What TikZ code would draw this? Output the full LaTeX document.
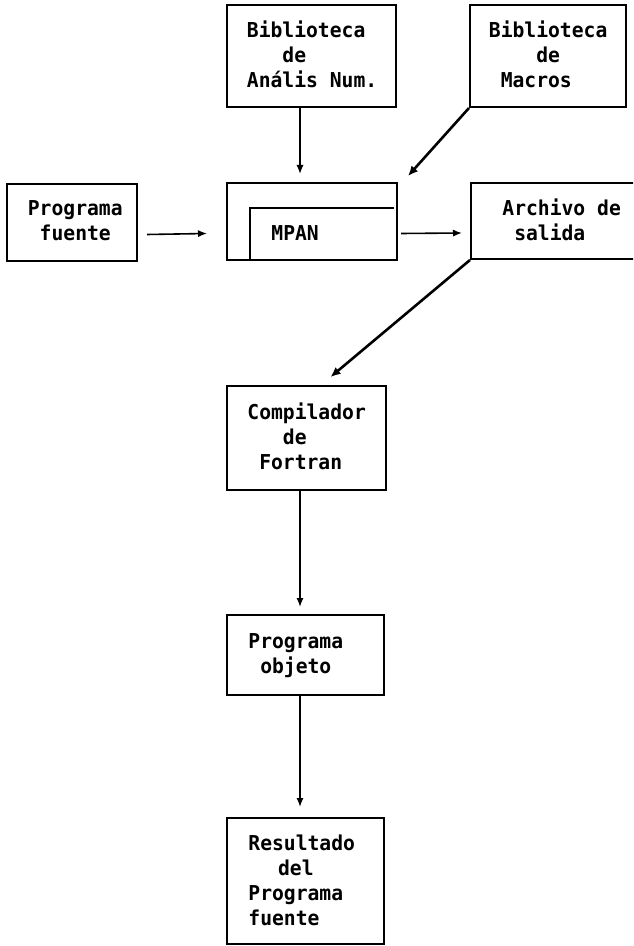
\documentclass[tikz,border=0pt]{standalone}
\usepackage{fontspec}
\setmonofont{DejaVu Sans Mono}[FakeStretch=0.96]
\usetikzlibrary{calc,arrows.meta}

\begin{document}
% one unit = one pixel of the sheet; y grows downwards
\begin{tikzpicture}[x=0.5pt,y=-0.5pt,
  box/.style={draw,line width=1pt,inner sep=0pt,rectangle},
  txt/.style={anchor=base west,align=left,inner sep=0pt,
    font=\fontsize{10.25pt}{12.5pt}\selectfont\ttfamily\bfseries},
  arr/.style={line width=0.8pt,-{Latex[length=4.5pt,width=3.6pt]}},
  diag/.style={line width=1.3pt,-{Latex[length=5pt,width=4.4pt]}}]

\path[use as bounding box,fill=white] (0,0) rectangle (633,946);
\clip (0,0) rectangle (633,946);

% boxes
\node[box,minimum width=84.5pt,minimum height=51pt] (bibnum) at (311.5,56) {};
\node[box,minimum width=78pt,minimum height=51pt] (bibmac) at (548,56) {};
\node[box,minimum width=65.25pt,minimum height=38.5pt] (fuente) at (71.75,222.5) {};
\node[box,minimum width=85pt,minimum height=38.5pt] (mpan) at (312,221.5) {};
\node[box,minimum width=89.5pt,minimum height=38pt] (archivo) at (560.5,221) {};
\node[box,minimum width=79.5pt,minimum height=52pt] (comp) at (306.5,438) {};
\node[box,minimum width=78.5pt,minimum height=40pt] (obj) at (305.5,655) {};
\node[box,minimum width=78.5pt,minimum height=63pt] (result) at (305.5,881) {};

% inner frame of the MPAN box
\draw[line width=1pt] ($(mpan.south west)+(24,0)$) |- ($(mpan.north east)+(-4,26)$);

% labels (anchored at the baseline of their last line)
\node[txt] (bibnum-t) at (246.5,88) {Biblioteca\\\hphantom{xxx}de\\Anális Num.};
\node[txt] (bibmac-t) at (488.5,88) {Biblioteca\\\hphantom{xxxx}de\\\hphantom{x}Macros};
\node[txt] (fuente-t) at (27.5,241) {Programa\\\hphantom{x}fuente};
\node[txt] (mpan-t) at (271,241) {MPAN};
\node[txt] (archivo-t) at (502,241) {Archivo de\\\hphantom{x}salida};
\node[txt] (comp-t) at (247,469) {Compilador\\\hphantom{xxx}de\\\hphantom{x}Fortran};
\node[txt] (obj-t) at (248,673) {Programa\\\hphantom{x}objeto};
\node[txt] (result-t) at (248,925) {Resultado\\\hphantom{xx}\kern3pt del\\Programa\\fuente};

% connectors
\draw[arr] ($(bibnum.south)+(-11.5,0)$) -- ($(mpan.north)+(-12,-8)$);
\draw[diag] (bibmac.south west) -- ($(mpan.north east)+(10,-6)$);
\draw[arr] ($(fuente.east)+(9,12)$) -- ($(mpan.west)+(-19,12)$);
\draw[arr] ($(mpan.east)+(3,12)$) -- ($(archivo.west)+(-8,12)$);
\draw[diag] (archivo.south west) -- ($(comp.north)+(24,-8)$);
\draw[arr] ($(comp.south)+(-6.5,0)$) -- ($(obj.north)+(-5.5,-7)$);
\draw[arr] ($(obj.south)+(-5.5,0)$) -- ($(result.north)+(-5.5,-10)$);
\end{tikzpicture}
\end{document}
